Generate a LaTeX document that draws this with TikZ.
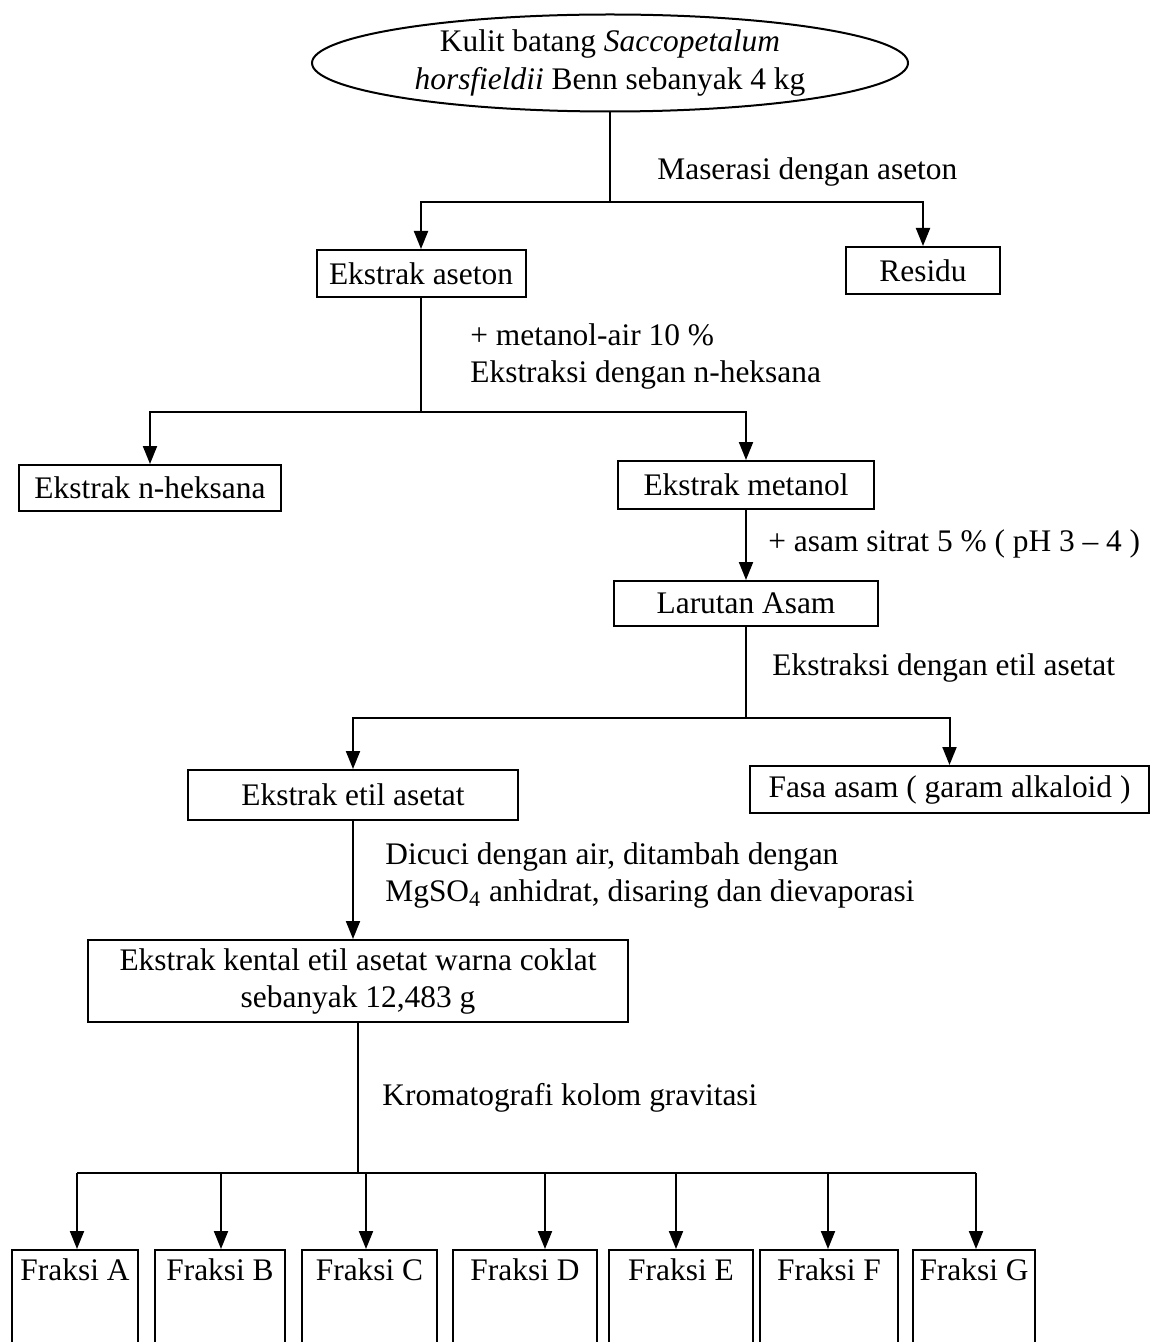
\documentclass[tikz,border=0pt]{standalone}
\usepackage{fontspec}
\setmainfont{Liberation Serif}
\usetikzlibrary{shapes.geometric,arrows.meta}
\begin{document}
\begin{tikzpicture}[x=0.5pt,y=-0.5pt,
  every node/.style={font=\fontsize{15.7}{18.5}\selectfont},
  box/.style={draw,line width=1pt,inner sep=0pt,align=center},
  lab/.style={inner sep=0pt,anchor=west,align=left},
  frac/.style={draw,line width=1pt,anchor=north,inner xsep=0pt,inner ysep=4pt,text height=11pt,text depth=60pt},
  conn/.style={line width=1pt},
  arr/.style={line width=1pt,-{Triangle[length=9pt,width=7pt]}}]
\useasboundingbox (0,0) rectangle (1156,1342);
\clip (0,0) rectangle (1156,1342);
\fill[white] (0,0) rectangle (1156,1342);

% nodes
\node[ellipse,draw,line width=1pt,minimum width=298pt,minimum height=48.5pt,inner sep=0pt,align=center,font=\fontsize{15.7}{19}\selectfont] (src) at (610,63) {Kulit batang \textit{Saccopetalum}\\\textit{horsfieldii} Benn sebanyak 4 kg};
\node[box,minimum width=104.5pt,minimum height=23.5pt] (aset) at (421,273.5) {Ekstrak aseton};
\node[box,minimum width=77pt,minimum height=23.5pt] (res) at (923,270.5) {Residu};
\node[box,minimum width=131pt,minimum height=23pt] (heks) at (150,488) {Ekstrak n-heksana};
\node[box,minimum width=128pt,minimum height=24pt] (met) at (746,485) {Ekstrak metanol};
\node[box,minimum width=132pt,minimum height=22.5pt] (lar) at (746,603.5) {Larutan Asam};
\node[box,minimum width=165pt,minimum height=25pt] (etil) at (353,795) {Ekstrak etil asetat};
\node[box,minimum width=199.5pt,minimum height=23.5pt] (fasa) at (949.5,789.5) {Fasa asam ( garam alkaloid )};
\node[box,minimum width=270pt,minimum height=41pt] (kent) at (358,981) {Ekstrak kental etil asetat warna coklat\\sebanyak 12,483 g};

\node[frac,minimum width=63pt] (fa) at (75,1249) {Fraksi A};
\node[frac,minimum width=65pt] (fb) at (220,1249) {Fraksi B};
\node[frac,minimum width=67.5pt] (fc) at (369.5,1249) {Fraksi C};
\node[frac,minimum width=72pt] (fd) at (525,1249) {Fraksi D};
\node[frac,minimum width=72pt] (fe) at (681,1249) {Fraksi E};
\node[frac,minimum width=69pt] (ff) at (829,1249) {Fraksi F};
\node[frac,minimum width=61pt] (fg) at (974,1249) {Fraksi G};

% labels
\node[lab] (l1) at (657,172) {Maserasi dengan aseton};
\node[lab] (l2) at (470,356.5) {+ metanol-air 10 \%\\Ekstraksi dengan n-heksana};
\node[lab] (l3) at (768,544) {+ asam sitrat 5 \% ( pH 3 -- 4 )};
\node[lab] (l4) at (772,668) {Ekstraksi dengan etil asetat};
\node[lab] (l5) at (385,875.5) {Dicuci dengan air, ditambah dengan\\MgSO\textsubscript{4} anhidrat, disaring dan dievaporasi};
\node[lab] (l6) at (382,1098) {Kromatografi kolom gravitasi};

% connectors
\coordinate (j1) at (610,202);
\draw[conn] (src.south) -- (j1);
\draw[arr] (j1) -| (aset.north);
\draw[arr] (j1) -| (res.north);

\coordinate (j2) at (421,412);
\draw[conn] (aset.south) -- (j2);
\draw[arr] (j2) -| (heks.north);
\draw[arr] (j2) -| (met.north);

\draw[arr] (met.south) -- (lar.north);

\coordinate (j3) at (746,718);
\draw[conn] (lar.south) -- (j3);
\draw[arr] (j3) -| (etil.north);
\draw[arr] (j3) -| (fasa.north);

\draw[arr] (etil.south) -- (etil.south |- kent.north);

\coordinate (j4) at (358,1173);
\draw[conn] (kent.south) -- (j4);
\coordinate (ta) at (77,1173);
\coordinate (tb) at (221,1173);
\coordinate (tc) at (366,1173);
\coordinate (td) at (545,1173);
\coordinate (te) at (676,1173);
\coordinate (tf) at (828,1173);
\coordinate (tg) at (976,1173);
\draw[conn] (ta) -- (tg);
\foreach \t/\f in {ta/fa,tb/fb,tc/fc,td/fd,te/fe,tf/ff,tg/fg}
  \draw[arr] (\t) -- (\t |- \f.north);
\end{tikzpicture}
\end{document}
